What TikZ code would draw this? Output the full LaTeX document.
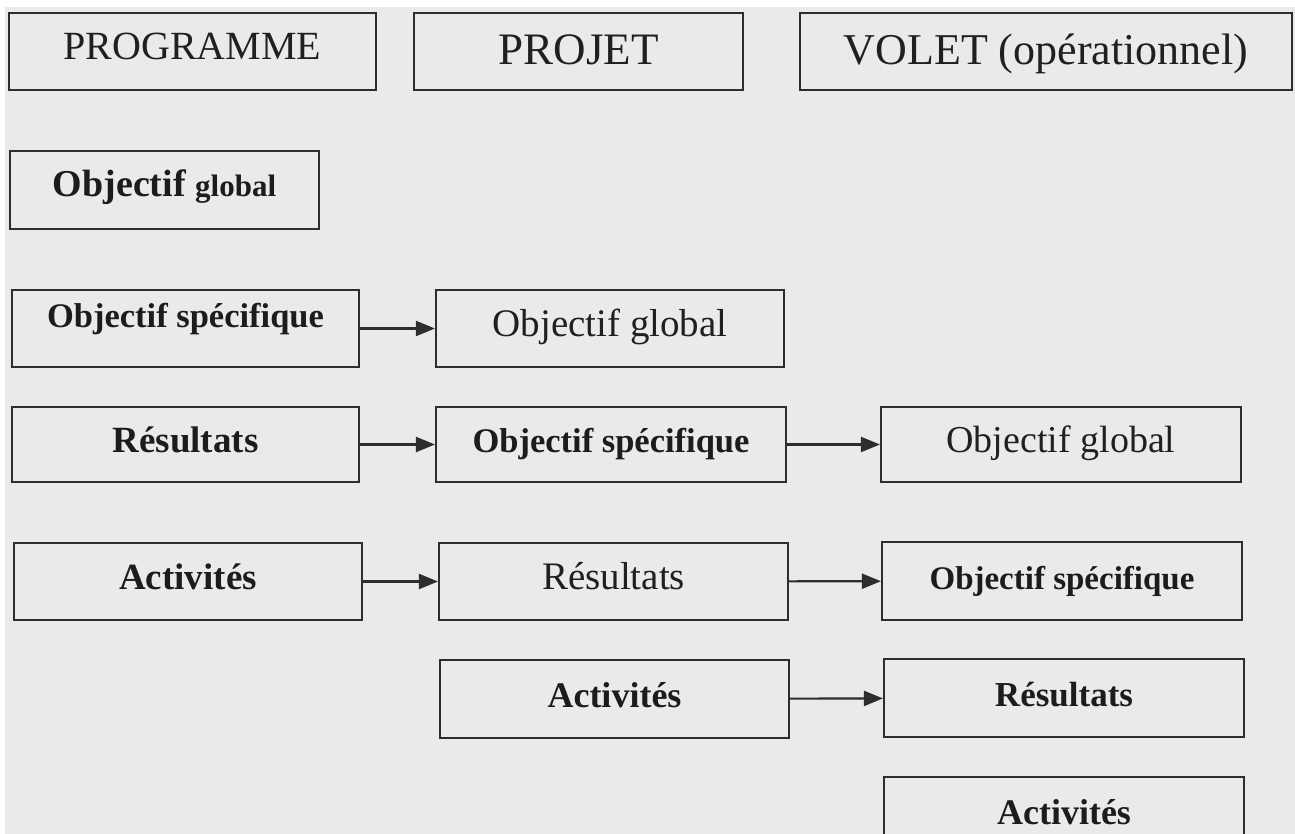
\documentclass[tikz,border=0pt]{standalone}
\usepackage{fontspec}
\setmainfont{Liberation Serif}
\usetikzlibrary{arrows.meta}
\definecolor{paper}{RGB}{234,234,234}
\definecolor{ink}{RGB}{45,45,45}
\definecolor{textink}{RGB}{32,32,32}
\definecolor{darkink}{RGB}{28,28,28}
\newcommand{\fs}[1]{\fontsize{#1}{#1}\selectfont}
\begin{document}
\begin{tikzpicture}[x=1pt,y=-1pt,
  box/.style={draw=ink, line width=2.1pt, fill=none, text=textink, inner sep=0pt,
    rectangle, text height=26pt, text depth=10pt, align=center},
  heavy/.style={text=darkink, font=\bfseries},
  head/.style={text height=30pt, text depth=3pt},
  link/.style={draw=ink, line width=2.1pt, -{Triangle[length=19pt,width=15pt]}}]
  % page and paper
  \clip (0,0) rectangle (1295,834);
  \fill[white] (0,0) rectangle (1295,834);
  \fill[paper] (5,7) rectangle (1295,834);

  % column headings
  \node[box, minimum width=367pt, minimum height=77pt, text height=24pt, text depth=7pt] (prog) at (192.5,51.5) {\fs{40}PROGRAMME};
  \node[box, head, minimum width=329pt, minimum height=77pt] (proj) at (578.5,51.5) {\fs{45}PROJET};
  \node[box, head, minimum width=492pt, minimum height=77pt] (volet) at (1046,51.5) {\fs{44}VOLET (opérationnel)};

  % programme column
  \node[box, heavy, minimum width=309pt, minimum height=78pt, text height=24pt, text depth=10pt] (pog) at (164.5,190) {\fs{38}Objectif {\fs{31}global}};
  \node[box, heavy, minimum width=347pt, minimum height=77pt, text height=14pt, text depth=17pt] (pos) at (185.5,328.5) {\fs{34.5}Objectif spécifique};
  \node[box, heavy, minimum width=347pt, minimum height=75pt] (pres) at (185.5,444.5) {\fs{37}Résultats};
  \node[box, heavy, minimum width=348pt, minimum height=77pt] (pact) at (188,581.5) {\fs{37}Activités};

  % projet column
  \node[box, minimum width=348pt, minimum height=77pt] (jog) at (610,328.5) {\fs{39}Objectif global};
  \node[box, heavy, minimum width=350pt, minimum height=75pt] (jos) at (611,444.5) {\fs{34.5}Objectif spécifique};
  \node[box, minimum width=349pt, minimum height=77pt] (jres) at (613.5,581.5) {\fs{39}Résultats};
  \node[box, heavy, minimum width=349pt, minimum height=78pt] (jact) at (614.5,699) {\fs{36}Activités};

  % volet column
  \node[box, minimum width=360pt, minimum height=75pt] (vog) at (1061,444.5) {\fs{38}Objectif global};
  \node[box, heavy, minimum width=360pt, minimum height=78pt] (vos) at (1062,581) {\fs{33}Objectif spécifique};
  \node[box, heavy, minimum width=360pt, minimum height=78pt] (vres) at (1064,698) {\fs{35}Résultats};
  \node[box, heavy, minimum width=360pt, minimum height=78pt] (vact) at (1064,816) {\fs{36}Activités};

  % correspondences between levels
  \draw[link] (pos) -- (jog);
  \draw[link] (pres) -- (jos);
  \draw[link] (pact) -- (jres);
  \draw[link] (jos) -- (vog);
  \draw[link] (jres) -- (vos);
  \draw[link] (jact) -- (vres);
\end{tikzpicture}
\end{document}
